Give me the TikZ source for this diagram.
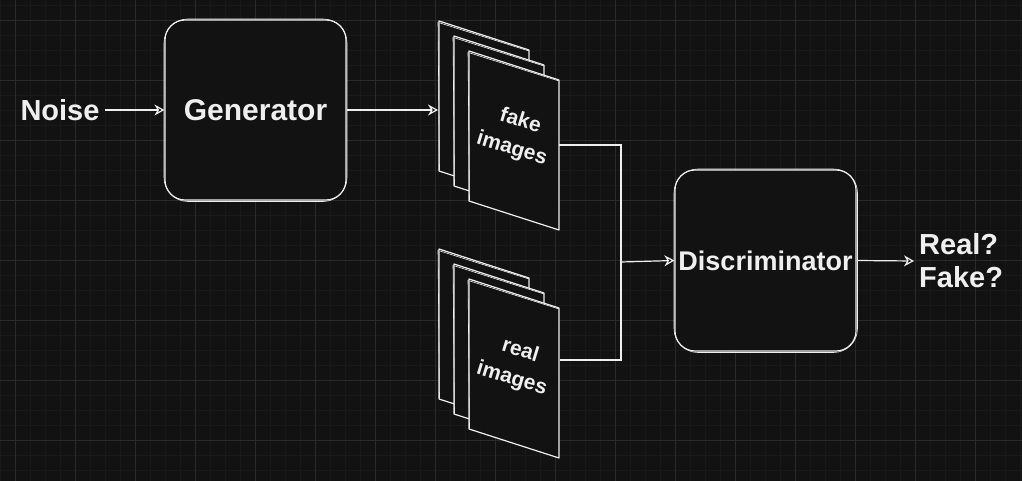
\documentclass[tikz,border=0pt]{standalone}
\usepackage{fontspec}
\setmainfont{Liberation Sans}
\usetikzlibrary{arrows.meta}
\definecolor{bg}{HTML}{121212}
\definecolor{gmaj}{HTML}{2A2A2A}
\definecolor{gmin}{HTML}{191919}
\definecolor{ink}{HTML}{EFEFEF}
\begin{document}
\begin{tikzpicture}[x=1pt,y=-1pt,
  inkline/.style={draw=ink, line width=1.2pt},
  sketchline/.style={draw=ink, line width=0.6pt},
  arr/.style={inkline, -{Stealth[open,length=10pt,width=11pt]}},
  lbl/.style={text=ink, font=\bfseries\fontsize{29}{33}\selectfont, inner sep=0pt},
  sheettxt/.style={text=ink, font=\bfseries\fontsize{21}{29}\selectfont, inner sep=0pt, align=center, rotate=-17},
  box/.style={inkline, fill=bg, rounded corners=20pt, minimum width=181pt, minimum height=180pt, inner sep=0pt, text=ink},
  sheet/.style={inkline, fill=bg, line join=round},
]
\fill[bg] (0,0) rectangle (1022,481);
\useasboundingbox (0,0) rectangle (1022,481);
% grid
\foreach \x in {0,15,...,1020} \draw[gmin, line width=0.8pt] (\x,0) -- (\x,481);
\foreach \y in {5,20,...,480} \draw[gmin, line width=0.8pt] (0,\y) -- (1022,\y);
\foreach \x in {15,75,...,1015} \draw[gmaj, line width=0.9pt] (\x,0) -- (\x,481);
\foreach \y in {20,80,...,440} \draw[gmaj, line width=0.9pt] (0,\y) -- (1022,\y);

% boxes
\node[box, font=\bfseries\fontsize{30}{34}\selectfont] (gen) at (255.5,110) {Generator};
\draw[sketchline, rounded corners=24pt] (164,19) rectangle (347,201.5);
\node[box, minimum height=181pt, font=\bfseries\fontsize{27}{31}\selectfont] (disc) at (765.5,260.5) {Discriminator};
\draw[sketchline, rounded corners=24pt] (674,169) rectangle (857.5,352.5);

% labels
\node[lbl] (noise) at (60,110) {Noise};
\node[lbl, anchor=west, align=left] (out) at (919,261) {Real?\\Fake?};

% sheet stacks
\foreach \sx/\sy in {439/21, 454/36, 469/51, 439/249, 454/264, 469/279} {
  \filldraw[sheet] (\sx,\sy) -- ++(90,29) -- ++(0,150) -- ++(-90,-29) -- cycle;
  \draw[sketchline] (\sx+1,\sy+2) -- ++(89,28) (\sx-1,\sy+1) -- ++(1.5,148);
}
\node[sheettxt] (faketxt) at (516,135) {fake\\images};
\node[sheettxt] (realtxt) at (516,365) {real\\images};

% connector points
\coordinate (fakein) at (438,110);
\coordinate (fakeout) at (559,145);
\coordinate (realout) at (560,360);
\coordinate (junc) at (621,262);

% connectors
\draw[arr] ([xshift=5pt]noise.east) -- (gen.west);
\draw[arr] (gen.east) -- (fakein);
\draw[inkline] (fakeout) -| (junc);
\draw[inkline] (realout) -| (junc);
\draw[arr] (junc) -- (disc.west);
\draw[arr] (disc.east) -- ([xshift=-5pt]out.west);
\end{tikzpicture}
\end{document}
